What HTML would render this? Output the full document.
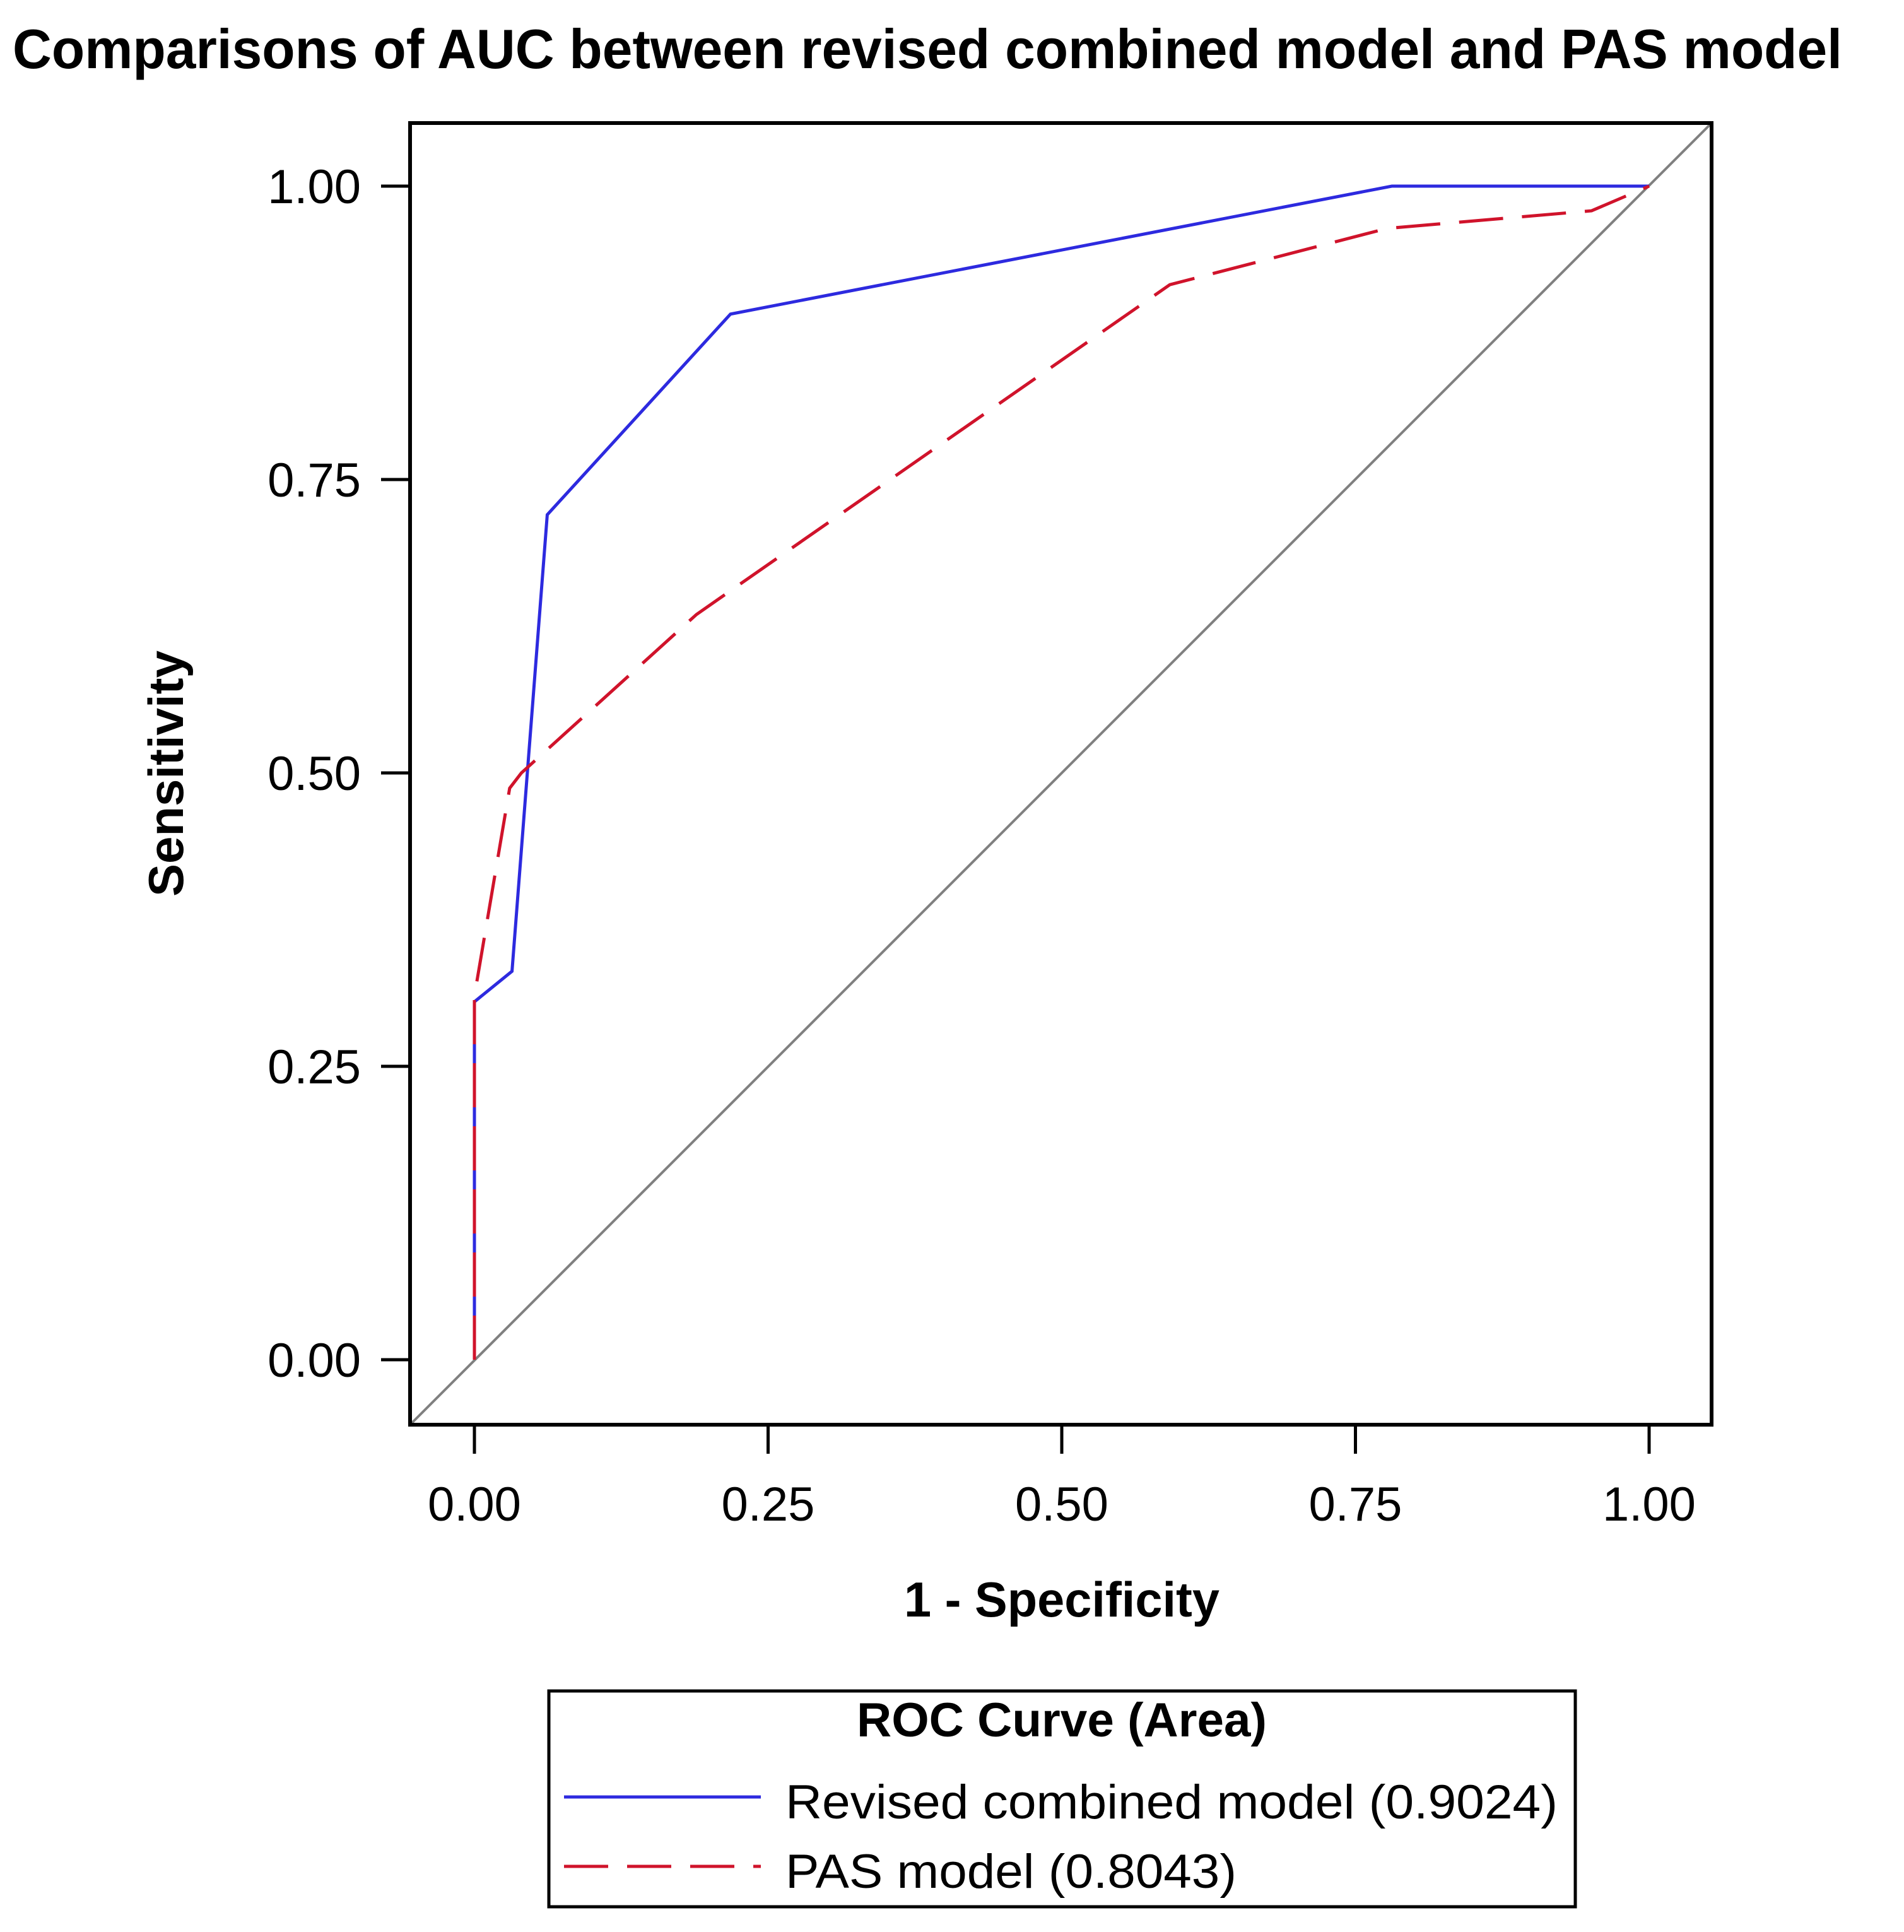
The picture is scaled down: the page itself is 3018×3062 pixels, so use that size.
<!DOCTYPE html>
<html><head><meta charset="utf-8"><style>html,body{margin:0;padding:0;background:#fff}svg{display:block}text{font-family:"Liberation Sans",sans-serif}</style></head>
<body>
<svg id="chart" width="3018" height="3062" viewBox="0 0 3018 3062" xmlns="http://www.w3.org/2000/svg">
<text x="20" y="108" font-size="88" font-weight="bold" textLength="2900" lengthAdjust="spacingAndGlyphs">Comparisons of AUC between revised combined model and PAS model</text>
<g id="plot"></g>
<text x="1683" y="2562" font-size="78" font-weight="bold" text-anchor="middle" textLength="500" lengthAdjust="spacingAndGlyphs">1 - Specificity</text>
<text transform="translate(290,1226) rotate(-90)" font-size="78" font-weight="bold" text-anchor="middle" textLength="390" lengthAdjust="spacingAndGlyphs">Sensitivity</text>
<g>
<rect x="870" y="2680" width="1627" height="342" fill="none" stroke="#000" stroke-width="5"/>
<text x="1683" y="2752" font-size="76" font-weight="bold" text-anchor="middle" textLength="650" lengthAdjust="spacingAndGlyphs">ROC Curve (Area)</text>
<line x1="894" y1="2848" x2="1206" y2="2848" stroke="#2d2adf" stroke-width="5"/>
<text x="1245" y="2882" font-size="76" textLength="1224" lengthAdjust="spacingAndGlyphs">Revised combined model  (0.9024)</text>
<line x1="894" y1="2958" x2="1206" y2="2958" stroke="#d0132b" stroke-width="5" stroke-dasharray="70,30"/>
<text x="1245" y="2992" font-size="76" textLength="715" lengthAdjust="spacingAndGlyphs">PAS model  (0.8043)</text>
</g>
</svg>
<script>
const ticks=[0,0.25,0.5,0.75,1];
const tickLabels=["0.00","0.25","0.50","0.75","1.00"];
const revisedX=[0,0,0.032,0.062,0.218,0.781,1];
const revisedY=[0,0.305,0.331,0.72,0.891,1,1];
const pasX=[0,0,0.030,0.040,0.189,0.592,0.777,0.951,1];
const pasY=[0,0.31,0.487,0.50,0.635,0.916,0.964,0.979,1];
const NS="http://www.w3.org/2000/svg";
const X0=752,X1=2614,Y0=2155,Y1=295;
const sx=v=>X0+v*(X1-X0), sy=v=>Y0-v*(Y0-Y1);
const L=650,R=2713,T=195,B=2258;
const g=document.getElementById('plot');
function mk(tag,attrs){const e=document.createElementNS(NS,tag);for(const k in attrs)e.setAttribute(k,attrs[k]);g.appendChild(e);return e;}
let d=mk('line',{x1:L,y1:B,x2:R,y2:T,stroke:'#808080','stroke-width':4});


ticks.forEach((t,i)=>{
 let a=mk('line',{x1:sx(t),y1:B,x2:sx(t),y2:B+46,stroke:'#000','stroke-width':5});
 
 
 let b=mk('text',{x:sx(t),y:2410,'font-size':76,'text-anchor':'middle'});b.textContent=tickLabels[i];
 
 
 let c=mk('line',{x1:L-46,y1:sy(t),x2:L,y2:sy(t),stroke:'#000','stroke-width':5});
 
 
 let e=mk('text',{x:572,y:sy(t)+27,'font-size':76,'text-anchor':'end'});e.textContent=tickLabels[i];
 
 
});
const pts=(xs,ys)=>xs.map((x,i)=>sx(x)+','+sy(ys[i])).join(' ');
let rv=mk('polyline',{points:pts(revisedX,revisedY),fill:'none',stroke:'#2d2adf','stroke-width':5,'stroke-linejoin':'miter'});


let pa=mk('polyline',{points:pts(pasX,pasY),fill:'none',stroke:'#d0132b','stroke-width':5,'stroke-dasharray':'70,30'});


let fr=mk('rect',{x:L,y:T,width:R-L,height:B-T,fill:'none',stroke:'#000','stroke-width':6});


</script>
</body></html>
